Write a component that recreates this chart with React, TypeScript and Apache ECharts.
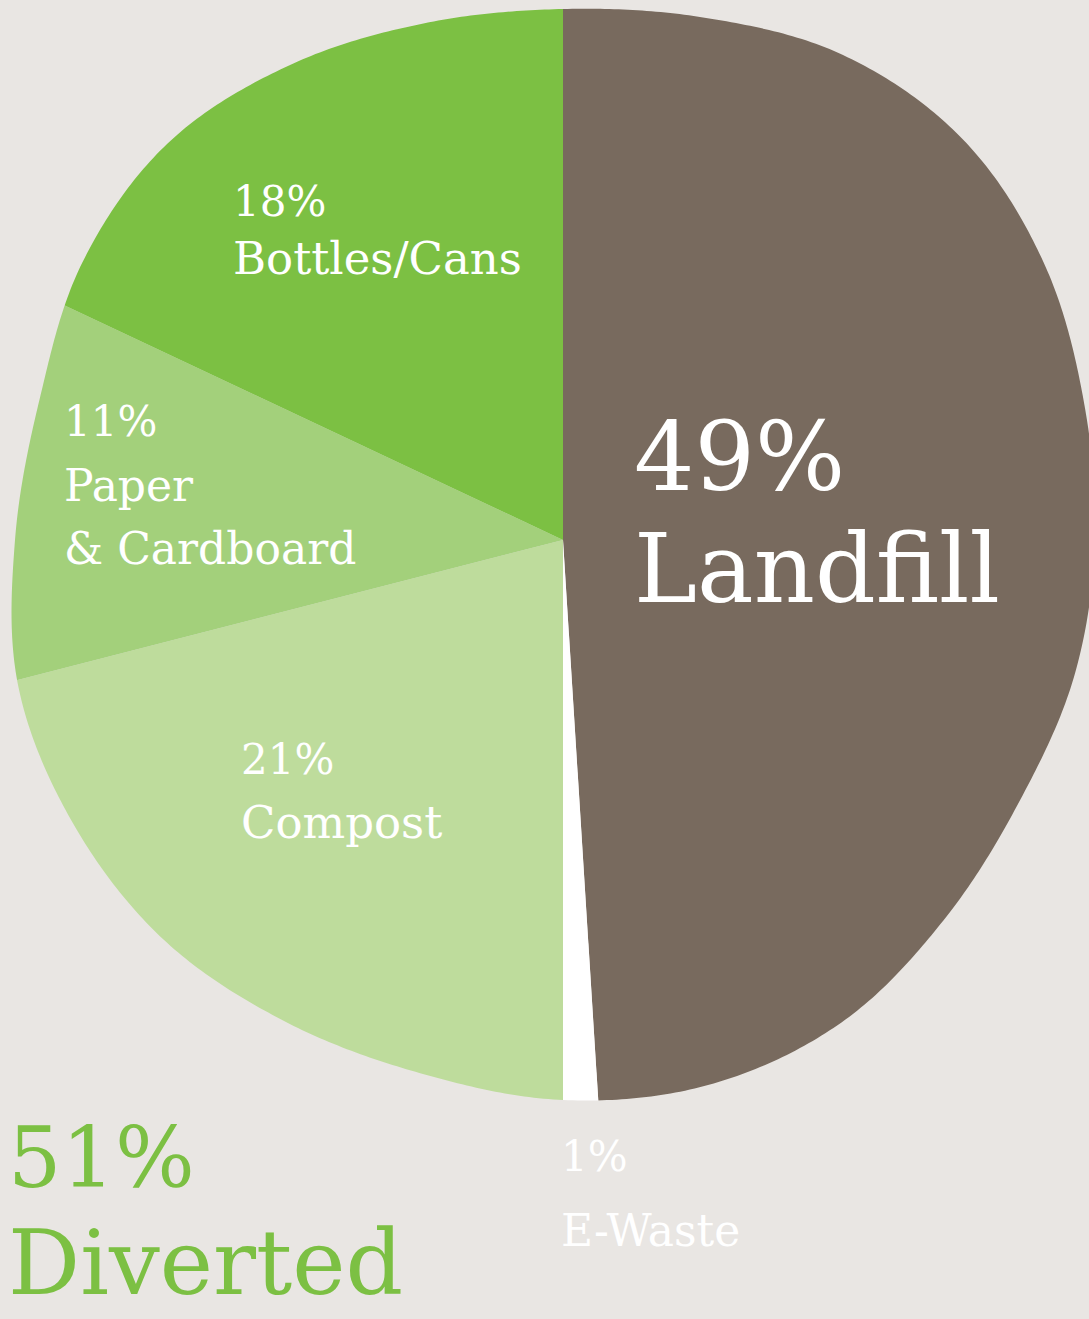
import React, { useEffect, useRef } from "react";
import * as echarts from "echarts";

// ---- data ----
const categories = ["Landfill", "E-Waste", "Compost", "Paper & Cardboard", "Bottles/Cans"];
const values = [49, 1, 21, 11, 18];
const nameLines = [["Landfill"], ["E-Waste"], ["Compost"], ["Paper", "& Cardboard"], ["Bottles/Cans"]];
const sliceColors = ["#786a5e", "#ffffff", "#bedc9c", "#a3d07b", "#7cc043"];
const divertedPct = 51;
const divertedText = "Diverted";

// ---- style / layout ----
const BG = "#e9e6e3";
const W = 1089;
const H = 1319;
const CX = 563;
const CY = 540;
const FONT = "'DejaVu Serif', 'Liberation Serif', serif";

// outline of the irregular pie (radius every 15 deg, clockwise from top)
const BLOB_R = [531, 541, 560, 566, 555, 539, 532, 529, 526, 538, 557, 564, 560, 552, 556, 565, 566, 564, 548, 542, 555, 560, 548, 535];

function blobRadius(deg: number) {
  const n = BLOB_R.length;
  const step = 360 / n;
  const t = (((deg % 360) + 360) % 360) / step;
  const i = Math.floor(t);
  const f = t - i;
  const p0 = BLOB_R[(i - 1 + n) % n];
  const p1 = BLOB_R[i % n];
  const p2 = BLOB_R[(i + 1) % n];
  const p3 = BLOB_R[(i + 2) % n];
  return 0.5 * (2 * p1 + (-p0 + p2) * f + (2 * p0 - 5 * p1 + 4 * p2 - p3) * f * f + (-p0 + 3 * p1 - 3 * p2 + p3) * f * f * f);
}

function maskPath() {
  let d = `M-60 -60 L${W + 60} -60 L${W + 60} ${H + 60} L-60 ${H + 60} Z `;
  for (let k = 0; k <= 720; k++) {
    const deg = 360 - k * 0.5;
    const r = blobRadius(deg);
    const a = (deg * Math.PI) / 180;
    const x = CX + r * Math.sin(a);
    const y = CY - r * Math.cos(a);
    d += (k === 0 ? "M" : "L") + x.toFixed(2) + " " + y.toFixed(2) + " ";
  }
  d += "Z";
  return d;
}

let registered = false;
function ensureShape() {
  if (registered) return;
  echarts.graphic.registerShape("blobMask", echarts.graphic.extendPath(maskPath(), {}) as any);
  registered = true;
}

// label layout: left x, baselines, font sizes
const labelLayout = [
  { x: 634, pctBase: 488, nameBase: [600], pctSize: 95, nameSize: 95, color: "#ffffff" },
  { x: 561, pctBase: 1170, nameBase: [1245], pctSize: 42, nameSize: 44, color: "#ffffff" },
  { x: 241, pctBase: 773, nameBase: [837], pctSize: 42, nameSize: 45, color: "#ffffff" },
  { x: 64, pctBase: 435, nameBase: [500, 563], pctSize: 42, nameSize: 44, color: "#ffffff" },
  { x: 233, pctBase: 215, nameBase: [273], pctSize: 42, nameSize: 45, color: "#ffffff" },
];

const BASE_K = 0.33;

function textEl(text: string, x: number, baseline: number, size: number, color: string) {
  return {
    type: "text",
    x,
    y: baseline - size * BASE_K,
    z: 120,
    silent: true,
    style: {
      text,
      fill: color,
      font: `${size}px ${FONT}`,
      align: "left",
      verticalAlign: "middle",
    },
  };
}

export default function App() {
  const ref = useRef<HTMLDivElement>(null);
  useEffect(() => {
    if (!ref.current) return;
    document.body.style.margin = "0";
    ensureShape();
    const chart = echarts.init(ref.current, null, { renderer: "svg" });

    const texts: any[] = [];
    categories.forEach((_, i) => {
      const L = labelLayout[i];
      texts.push(textEl(`${values[i]}%`, L.x, L.pctBase, L.pctSize, L.color));
      nameLines[i].forEach((line, j) => {
        texts.push(textEl(line, L.x, L.nameBase[j], L.nameSize, L.color));
      });
    });
    texts.push(textEl(`${divertedPct}%`, 8, 1186, 84, "#7cc043"));
    texts.push(textEl(divertedText, 8, 1292, 90, "#7cc043"));

    chart.setOption({
      animation: false,
      backgroundColor: BG,
      series: [
        {
          type: "pie",
          center: [CX, CY],
          radius: [0, 590],
          startAngle: 90,
          clockwise: true,
          silent: true,
          label: { show: false },
          labelLine: { show: false },
          emphasis: { disabled: true },
          itemStyle: { borderWidth: 0 },
          data: categories.map((name, i) => ({
            name,
            value: values[i],
            itemStyle: { color: sliceColors[i] },
          })),
        },
      ],
      graphic: [
        {
          type: "blobMask",
          x: 0,
          y: 0,
          z: 100,
          silent: true,
          style: { fill: BG, stroke: null },
        },
        ...texts,
      ],
    });
    return () => chart.dispose();
  }, []);
  return <div ref={ref} style={{ position: "absolute", left: 0, top: 0, width: W, height: H, overflow: "hidden" }} />;
}
